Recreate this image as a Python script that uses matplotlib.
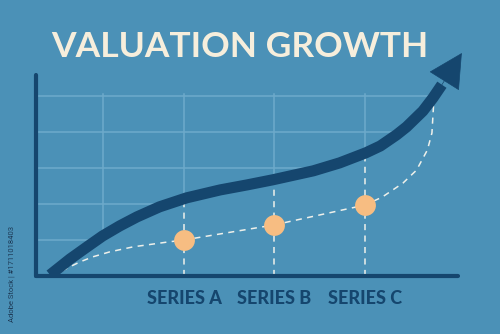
import numpy as np
import matplotlib
matplotlib.use("Agg")
import matplotlib.pyplot as plt

# series shown as dots
series_labels = ["SERIES A", "SERIES B", "SERIES C"]
series_x = [1, 2, 3]
series_values = [1.00, 1.42, 1.97]

# dashed trend line through the dots
trend_x = [-0.35, -0.29, -0.15, -0.01, 0.18, 0.44, 0.81, 1.0, 2.0, 3.0,
           3.19, 3.42, 3.57, 3.69, 3.74, 3.76]
trend_y = [0.14, 0.22, 0.39, 0.53, 0.67, 0.81, 0.94, 1.00, 1.42, 1.97,
           2.19, 2.58, 2.94, 3.50, 3.97, 4.83]

# thick growth arrow
growth_x = [-0.48, -0.26, -0.07, 0.10, 0.29, 0.48, 0.73, 1.03, 1.40, 1.70,
            1.98, 2.43, 2.72, 3.01, 3.17, 3.35, 3.46, 3.64, 3.75, 3.85]
growth_y = [0.03, 0.47, 0.81, 1.11, 1.39, 1.64, 1.92, 2.17, 2.39, 2.53,
            2.67, 2.92, 3.14, 3.42, 3.61, 3.92, 4.14, 4.58, 4.94, 5.31]
arrow_tip = (4.07, 6.19)

grid_y = [1, 2, 3, 4, 5]
grid_x = [0.1, 1, 2, 3]

bg = "#4b91b7"
navy = "#15466e"
grid_col = "#6eaacb"
dash_col = "#eef0ea"
dot_col = "#f7bd82"
cream = "#f6eedc"

fig = plt.figure(figsize=(5, 3.34), dpi=100, facecolor=bg)
ax = fig.add_axes([36 / 500, 58 / 334, 422 / 500, 201 / 334], facecolor=bg)
ax.set_xlim(-0.635, 4.028)
ax.set_ylim(0, 5.58)

# light grid, hidden under the curve by a mask
for gy in grid_y:
    ax.plot([-0.635, 3.91], [gy, gy], color=grid_col, lw=1.1, zorder=1)
for gx in grid_x:
    ax.plot([gx, gx], [0, 5.05], color=grid_col, lw=1.1, zorder=1)
mask_x = growth_x + [4.028]
mask_y = growth_y + [growth_y[-1]]
ax.fill_between(mask_x, 0, mask_y, color=bg, lw=0, zorder=2)

# dashed drop lines from the curve to the axis
for sx in series_x:
    top = np.interp(sx, growth_x, growth_y)
    ax.plot([sx, sx], [0, top], color=dash_col, lw=1.1,
            linestyle=(0, (4, 3.5)), zorder=3)

ax.plot(trend_x, trend_y, color=dash_col, lw=1.1,
        linestyle=(0, (4, 3.5)), zorder=3)

ax.plot(growth_x, growth_y, color=navy, lw=8, solid_capstyle="butt",
        solid_joinstyle="round", zorder=4)
ax.annotate("", xy=arrow_tip, xytext=(growth_x[-1], growth_y[-1]),
            arrowprops=dict(arrowstyle="-|>,head_length=2.3,head_width=1.2",
                            mutation_scale=10, color=navy, lw=0.5,
                            shrinkA=0, shrinkB=0),
            annotation_clip=False, zorder=5)

ax.plot(series_x, series_values, "o", color=dot_col, markersize=15,
        markeredgewidth=0, zorder=6)

for side in ["top", "right"]:
    ax.spines[side].set_visible(False)
for side in ["left", "bottom"]:
    ax.spines[side].set_color(navy)
    ax.spines[side].set_linewidth(3)
    ax.spines[side].set_capstyle("round")
    ax.spines[side].set_zorder(7)

ax.set_xticks(series_x, series_labels)
ax.set_yticks([])
ax.tick_params(axis="x", length=0, pad=10)
for lab in ax.get_xticklabels():
    lab.set_fontfamily("Lato")
    lab.set_fontweight("black")
    lab.set_fontsize(13)
    lab.set_color(navy)

fig.text(0.479, 0.829, "VALUATION GROWTH", ha="center", va="baseline",
         fontfamily="Lato", fontweight="bold", fontsize=25.5, color=cream)

fig.text(0.024, 0.18, "Adobe Stock | #1711018403", rotation=90,
         ha="center", va="center", fontfamily="Roboto", fontsize=5.5,
         color="#1d3a56")

fig.savefig("out.png", dpi=100, facecolor=bg)
